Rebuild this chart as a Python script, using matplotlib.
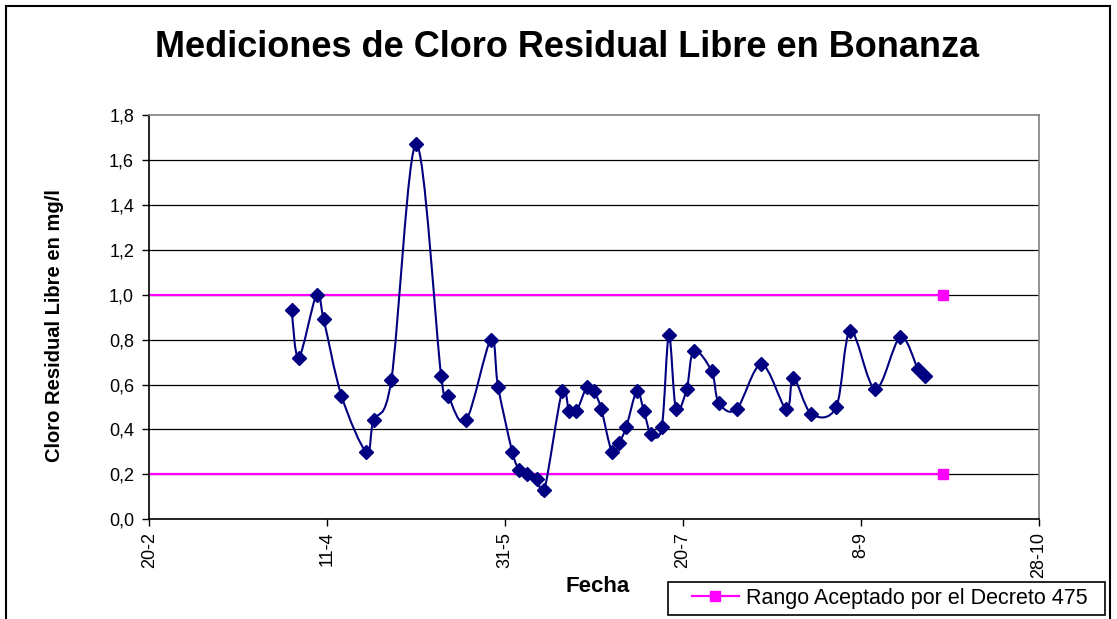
import numpy as np
import matplotlib
matplotlib.use('Agg')
import matplotlib.pyplot as plt
import matplotlib.dates as mdates
from matplotlib.path import Path
from matplotlib.patches import PathPatch, Rectangle
from matplotlib.lines import Line2D

plt.rcParams['font.family'] = ['Liberation Sans', 'DejaVu Sans']

# mediciones (fecha, mg/l)
fechas = ['2007-04-01', '2007-04-03', '2007-04-08', '2007-04-10', '2007-04-15',
          '2007-04-22', '2007-04-24', '2007-04-29', '2007-05-06', '2007-05-13',
          '2007-05-15', '2007-05-20', '2007-05-27', '2007-05-29', '2007-06-02',
          '2007-06-04', '2007-06-06', '2007-06-09', '2007-06-11', '2007-06-16',
          '2007-06-18', '2007-06-20', '2007-06-23', '2007-06-25', '2007-06-27',
          '2007-06-30', '2007-07-02', '2007-07-04', '2007-07-07', '2007-07-09',
          '2007-07-11', '2007-07-14', '2007-07-16', '2007-07-18', '2007-07-21',
          '2007-07-23', '2007-07-28', '2007-07-30', '2007-08-04', '2007-08-11',
          '2007-08-18', '2007-08-20', '2007-08-25', '2007-09-01', '2007-09-05',
          '2007-09-12', '2007-09-19', '2007-09-24', '2007-09-26']
cloro = [0.93, 0.72, 1.00, 0.89, 0.55, 0.30, 0.44, 0.62, 1.67, 0.64,
         0.55, 0.44, 0.80, 0.59, 0.30, 0.22, 0.20, 0.18, 0.13, 0.57,
         0.48, 0.48, 0.59, 0.57, 0.49, 0.30, 0.34, 0.41, 0.57, 0.48,
         0.38, 0.41, 0.82, 0.49, 0.58, 0.75, 0.66, 0.52, 0.49, 0.69,
         0.49, 0.63, 0.47, 0.50, 0.84, 0.58, 0.81, 0.67, 0.64]

# rango aceptado
rango_fechas = ['2007-02-20', '2007-10-01']
rango_sup = [1.0, 1.0]
rango_inf = [0.2, 0.2]

tick_fechas = ['2007-02-20', '2007-04-11', '2007-05-31', '2007-07-20',
               '2007-09-08', '2007-10-28']
tick_labels = ['20-2', '11-4', '31-5', '20-7', '8-9', '28-10']
y_ticks = [0.0, 0.2, 0.4, 0.6, 0.8, 1.0, 1.2, 1.4, 1.6, 1.8]

W, H = 1117, 619
fig = plt.figure(figsize=(W / 100, H / 100), dpi=100)
ax = fig.add_axes([149.3 / W, 1 - 519.3 / H, 889.7 / W, 404.3 / H])

# grid lines (black), drawn under everything
for yv in y_ticks[1:-1]:
    ax.axhline(yv, color='black', lw=0.9, zorder=1)

# range lines
rf = np.array(rango_fechas, dtype='datetime64[D]')
ax.plot(rf, rango_sup, color='#FF00FF', lw=1.6, marker='s', ms=7.5,
        markevery=[1], zorder=2)
ax.plot(rf, rango_inf, color='#FF00FF', lw=1.6, marker='s', ms=7.5,
        markevery=[1], zorder=2)

# smoothed line like excel (bezier through the points)
fx = mdates.date2num(np.array(fechas, dtype='datetime64[D]'))
pts = np.column_stack([fx, cloro])
ext = np.vstack([pts[0], pts, pts[-1]])
verts = [pts[0]]
codes = [Path.MOVETO]
for i in range(len(pts) - 1):
    p0, p1, p2, p3 = ext[i], ext[i + 1], ext[i + 2], ext[i + 3]
    verts += [p1 + (p2 - p0) / 6, p2 - (p3 - p1) / 6, p2]
    codes += [Path.CURVE4] * 3
ax.add_patch(PathPatch(Path(verts, codes), fill=False, ec='#000080',
                       lw=1.5, zorder=3))
ax.plot(np.array(fechas, dtype='datetime64[D]'), cloro, ls='none',
        marker='D', ms=7.5, color='#000080', zorder=4)

tf = np.array(tick_fechas, dtype='datetime64[D]')
ax.set_xlim(tf[0], tf[-1])
ax.set_ylim(0, 1.8)
ax.set_xticks(tf)
ax.set_xticklabels(tick_labels, rotation=90, fontsize=13)
ax.set_yticks(y_ticks)
ax.set_yticklabels([f'{v:.1f}'.replace('.', ',') for v in y_ticks], fontsize=13)
ax.tick_params(axis='both', direction='out', length=5, width=1, color='black')
ax.tick_params(axis='y', pad=6)
ax.tick_params(axis='x', pad=4)

for s in ['left', 'bottom']:
    ax.spines[s].set_color('black')
    ax.spines[s].set_linewidth(1.2)
for s in ['top', 'right']:
    ax.spines[s].set_color('#808080')
    ax.spines[s].set_linewidth(1.2)

ax.set_xlabel('Fecha', fontsize=16, fontweight='bold', va='baseline')
ax.xaxis.set_label_coords(0.504, -0.179)
ax.set_ylabel('Cloro Residual Libre en mg/l', fontsize=14.5, fontweight='bold',
              va='center')
ax.yaxis.set_label_coords(-0.107, 0.48)

fig.text(567 / W, 1 - 57 / H, 'Mediciones de Cloro Residual Libre en Bonanza',
         ha='center', va='baseline', fontsize=26, fontweight='bold')

# legend
h = Line2D([], [], color='#FF00FF', lw=1.6, marker='s', ms=7.5)
fig.legend(handles=[h], labels=['Rango Aceptado por el Decreto 475'],
           loc='center left', bbox_to_anchor=(691.7 / W, 1 - 598.5 / H),
           frameon=False, fontsize=15.5, handlelength=2.2, handletextpad=0.3,
           borderpad=0, borderaxespad=0)
fig.patches.append(Rectangle((668 / W, 1 - 615 / H), 437 / W, 33 / H,
                             transform=fig.transFigure, fill=False,
                             ec='black', lw=1.2))

# chart border
fig.patches.append(Rectangle((6 / W, -0.05), 1104 / W, 1.05 - 5.5 / H,
                             transform=fig.transFigure, fill=False,
                             ec='black', lw=1.5))

fig.savefig('out.png', dpi=100)
